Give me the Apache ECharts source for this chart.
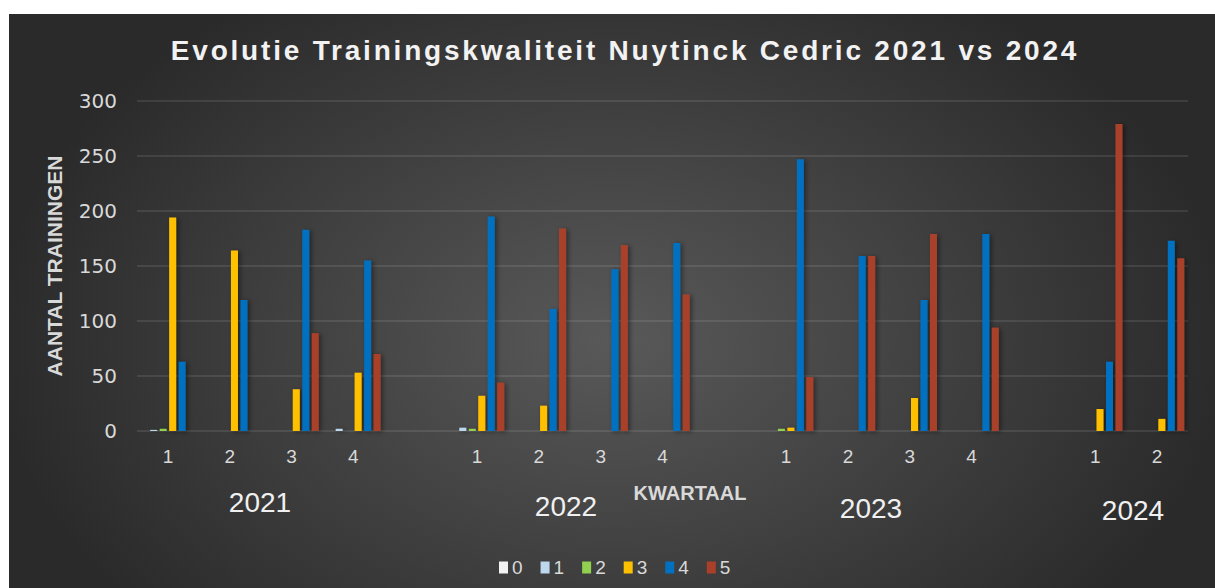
<!DOCTYPE html>
<html>
<head>
<meta charset="utf-8">
<title>Evolutie Trainingskwaliteit</title>
<script src="https://cdn.jsdelivr.net/npm/echarts@6.0.0/dist/echarts.min.js"></script>
<style>
  html, body { margin: 0; padding: 0; background: #ffffff; width: 1215px; height: 588px; overflow: hidden; }
  #chart {
    position: absolute; left: 9px; top: 14px; width: 1206px; height: 574px;
    background: radial-gradient(620px 420px at 603px 326px, #595959 0%, #2a2a2a 100%);
  }
</style>
</head>
<body>
<div id="chart"></div>
<script>
// Quarter labels per year, with an empty slot between the years
const quarters = ['1', '2', '3', '4', '', '1', '2', '3', '4', '', '1', '2', '3', '4', '', '1', '2'];
const years = ['2021', '2022', '2023', '2024'];
const scoreNames = ['0', '1', '2', '3', '4', '5'];

// Number of trainings per quality score, per quarter
const score0 = [0, 0, 0, 0, null, 0, 0, 0, 0, null, 0, 0, 0, 0, null, 0, 0];
const score1 = [1, 0, 0, 2, null, 3, 0, 0, 0, null, 0, 0, 0, 0, null, 0, 0];
const score2 = [2, 0, 0, 0, null, 2, 0, 0, 0, null, 2, 0, 0, 0, null, 0, 0];
const score3 = [194, 164, 38, 53, null, 32, 23, 0, 0, null, 3, 0, 30, 0, null, 20, 11];
const score4 = [63, 119, 183, 155, null, 195, 111, 147, 171, null, 247, 159, 119, 179, null, 63, 173];
const score5 = [0, 0, 89, 70, null, 44, 184, 169, 124, null, 49, 159, 179, 94, null, 279, 157];

const yTicks = { min: 0, max: 300, interval: 50 };

const TITLE = 'Evolutie Trainingskwaliteit Nuytinck Cedric 2021 vs 2024';
const scoreColors = ['#f2f2f2', '#bdd7ee', '#92d050', '#ffc000', '#0070c0', '#a9402a'];
const scoreData = [score0, score1, score2, score3, score4, score5];

// Year captions under the quarter groups
const yearPos = [[251, 488], [557, 492], [862, 494], [1124, 496]];

const chart = echarts.init(document.getElementById('chart'), null, { renderer: 'svg' });

const labelColor = '#d9d9d9';

chart.setOption({
  animation: false,
  backgroundColor: 'transparent',
  grid: { left: 128, right: 27, top: 87, bottom: 157, containLabel: false },
  legend: {
    data: scoreNames,
    left: 485,
    top: 539,
    icon: 'rect',
    itemWidth: 9,
    itemHeight: 12,
    itemGap: 18,
    textStyle: { color: labelColor, fontSize: 19, fontFamily: 'Liberation Sans, sans-serif', padding: [0, 0, 0, -1] }
  },
  xAxis: {
    type: 'category',
    data: quarters,
    axisLine: { lineStyle: { color: '#a0a0a0', width: 3, shadowColor: 'rgba(0,0,0,0.6)', shadowBlur: 3, shadowOffsetY: 2 } },
    axisTick: { show: false },
    axisLabel: { interval: 0, color: labelColor, fontSize: 19, margin: 16, fontFamily: 'Liberation Sans, sans-serif' },
    splitLine: { show: false }
  },
  yAxis: {
    type: 'value',
    min: yTicks.min,
    max: yTicks.max,
    interval: yTicks.interval,
    name: 'AANTAL TRAININGEN',
    nameLocation: 'middle',
    nameGap: 72,
    nameTextStyle: { color: labelColor, fontSize: 21, fontWeight: 'bold', fontFamily: '"Liberation Sans", sans-serif' },
    axisLine: { show: false },
    axisTick: { show: false },
    axisLabel: { color: labelColor, fontSize: 20, margin: 20, fontFamily: '"DejaVu Sans", sans-serif' },
    splitLine: { lineStyle: { color: 'rgba(255,255,255,0.13)', width: 1.5 } }
  },
  series: scoreNames.map((name, i) => ({
    name: name,
    type: 'bar',
    data: scoreData[i],
    barGap: '35%',
    barCategoryGap: '12%',
    itemStyle: {
      color: scoreColors[i],
      shadowColor: 'rgba(0,0,0,0.45)',
      shadowBlur: 5,
      shadowOffsetX: 2,
      shadowOffsetY: 1
    }
  })),
  graphic: [
    {
      type: 'text',
      x: 616, y: 36,
      style: {
        text: TITLE,
        fill: '#f2f2f2',
        font: 'bold 28px "Liberation Sans", sans-serif',
        textAlign: 'center',
        textVerticalAlign: 'middle',
        shadowColor: 'rgba(0,0,0,0.8)',
        shadowBlur: 4,
        shadowOffsetX: 2,
        shadowOffsetY: 2
      }
    },
    {
      type: 'text',
      x: 681, y: 479,
      style: {
        text: 'KWARTAAL',
        fill: labelColor,
        font: 'bold 20px "Liberation Sans", sans-serif',
        textAlign: 'center',
        textVerticalAlign: 'middle'
      }
    }
  ].concat(years.map((yr, i) => ({
    type: 'text',
    x: yearPos[i][0], y: yearPos[i][1],
    style: {
      text: yr,
      fill: '#f0f0f0',
      font: '28px "Liberation Sans", sans-serif',
      textAlign: 'center',
      textVerticalAlign: 'middle'
    }
  })))
});

// Wide tracking for the heading
function trackTitle() {
  document.querySelectorAll('#chart text').forEach(function (t) {
    if (t.textContent === TITLE) t.style.letterSpacing = '2.8px';
  });
}
trackTitle();
chart.on('finished', trackTitle);
setTimeout(trackTitle, 50);
</script>
</body>
</html>
